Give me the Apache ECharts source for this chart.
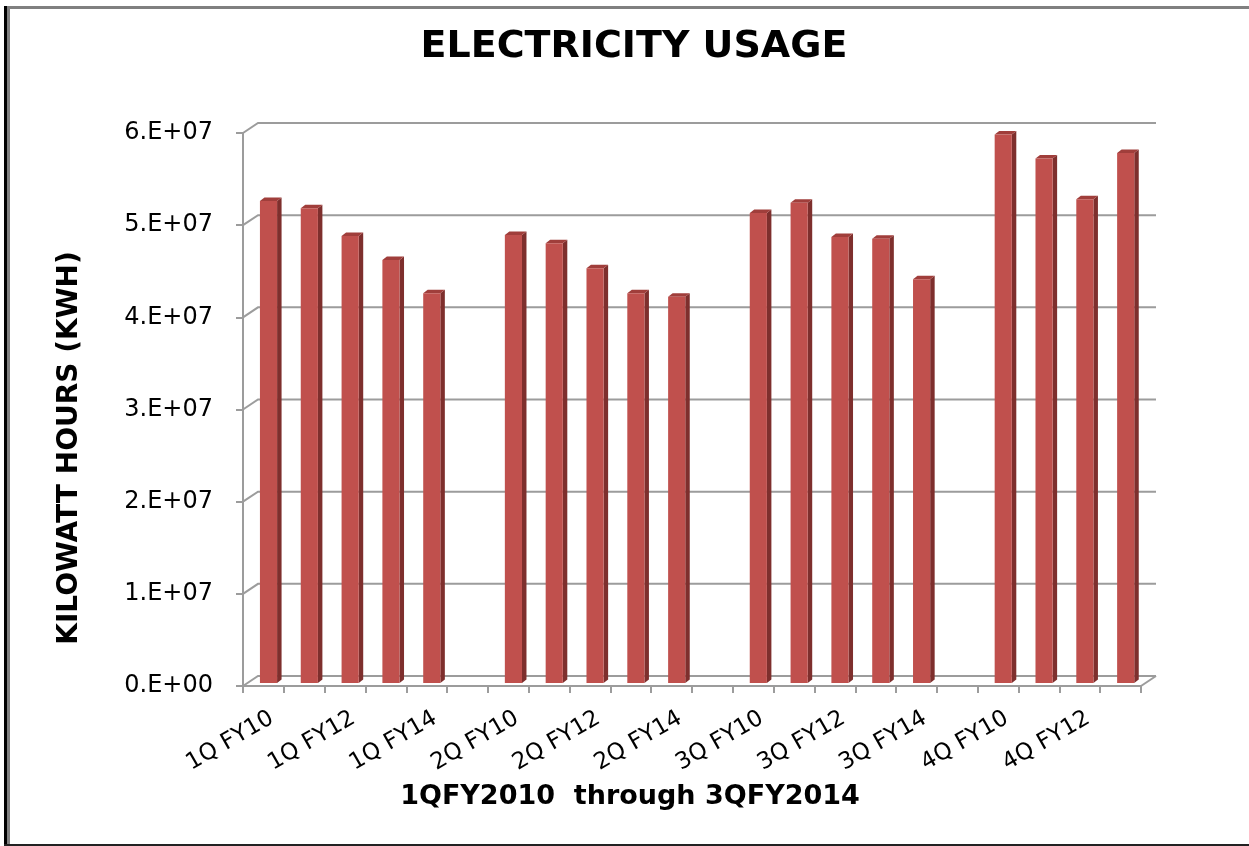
<!DOCTYPE html>
<html>
<head>
<meta charset="utf-8">
<script src="https://cdn.jsdelivr.net/npm/echarts@6/dist/echarts.min.js"></script>
<style>
html,body{margin:0;padding:0;background:#fff;}
#chart{width:1249px;height:846px;}
</style>
</head>
<body>
<div id="chart"></div>
<script>
// ---- data ----
const categories = ['1Q FY10','1Q FY11','1Q FY12','1Q FY13','1Q FY14',' ',
  '2Q FY10','2Q FY11','2Q FY12','2Q FY13','2Q FY14','  ',
  '3Q FY10','3Q FY11','3Q FY12','3Q FY13','3Q FY14','   ',
  '4Q FY10','4Q FY11','4Q FY12','4Q FY13'];
const kwh = [52300000, 51500000, 48500000, 45900000, 42300000, null,
  48600000, 47700000, 45000000, 42300000, 41900000, null,
  51000000, 52100000, 48400000, 48200000, 43800000, null,
  59500000, 56900000, 52500000, 57500000];
const yTickValues = [0, 10000000, 20000000, 30000000, 40000000, 50000000, 60000000];
const yTickLabels = ['0.E+00','1.E+07','2.E+07','3.E+07','4.E+07','5.E+07','6.E+07'];
const titleText = 'ELECTRICITY USAGE';
const yTitle = 'KILOWATT HOURS (KWH)';
const xTitle = '1QFY2010  through 3QFY2014';

// ---- styling ----
const FONT = '"DejaVu Sans", sans-serif';
const GRID_COLOR = '#9c9c9c';
const DEPTH_DX = 15, DEPTH_DY = -10;

const chart = echarts.init(document.getElementById('chart'), null, {renderer: 'canvas'});

const barData = [];
kwh.forEach((v, i) => { if (v !== null) barData.push([i, v]); });
const wallData = yTickValues.map(v => [0, v]);

const option = {
  backgroundColor: '#ffffff',
  animation: false,
  grid: {left: 243, right: 108, top: 133, bottom: 160, containLabel: false},
  xAxis: {
    type: 'category',
    data: categories,
    boundaryGap: true,
    axisLine: {show: true, lineStyle: {color: GRID_COLOR, width: 2}},
    axisTick: {show: true, interval: 0, length: 7, lineStyle: {color: GRID_COLOR, width: 2}},
    axisLabel: {
      interval: 1, rotate: 30, color: '#000', fontFamily: FONT, fontSize: 23,
      margin: 16, verticalAlign: 'top', lineHeight: 34
    },
    splitLine: {show: false}
  },
  yAxis: {
    type: 'value', min: 0, max: 60000000, interval: 10000000,
    axisLine: {show: true, lineStyle: {color: GRID_COLOR, width: 2}},
    axisTick: {show: true, length: 7, lineStyle: {color: GRID_COLOR, width: 2}},
    axisLabel: {
      color: '#000', fontFamily: FONT, fontSize: 24, margin: 30,
      formatter: v => yTickLabels[yTickValues.indexOf(v)]
    },
    splitLine: {show: false}
  },
  graphic: [
    {type: 'rect', shape: {x: 4, y: 6, width: 1245, height: 3}, style: {fill: '#808080'}, silent: true},
    {type: 'rect', shape: {x: 4, y: 6, width: 3, height: 840}, style: {fill: '#000'}, silent: true},
    {type: 'rect', shape: {x: 7, y: 6, width: 3, height: 840}, style: {fill: '#808080'}, silent: true},
    {type: 'rect', shape: {x: 4, y: 844, width: 1245, height: 2}, style: {fill: '#222'}, silent: true},
    {type: 'text', x: 634, y: 47, style: {text: titleText, fill: '#000', font: 'bold 38px ' + FONT, textAlign: 'center', textVerticalAlign: 'middle'}},
    {type: 'text', x: 630, y: 797, style: {text: xTitle, fill: '#000', font: 'bold 27px ' + FONT, textAlign: 'center', textVerticalAlign: 'middle'}},
    {type: 'text', x: 70, y: 448, rotation: Math.PI / 2, style: {text: yTitle, fill: '#000', font: 'bold 28px ' + FONT, textAlign: 'center', textVerticalAlign: 'middle'}}
  ],
  series: [
    {
      type: 'custom',
      name: 'walls',
      z: 1,
      silent: true,
      encode: {x: 0, y: 1},
      data: wallData,
      renderItem: function (params, api) {
        const cs = params.coordSys;
        const x0 = cs.x, x1 = cs.x + cs.width;
        const y = api.coord([0, api.value(1)])[1];
        const children = [{
          type: 'polyline',
          shape: {points: [[x0, y], [x0 + DEPTH_DX, y + DEPTH_DY], [x1 + DEPTH_DX, y + DEPTH_DY]]},
          style: {stroke: GRID_COLOR, lineWidth: 2, fill: null}
        }];
        if (api.value(1) === 0) {
          children.push({
            type: 'line',
            shape: {x1: x1, y1: y, x2: x1 + DEPTH_DX, y2: y + DEPTH_DY},
            style: {stroke: GRID_COLOR, lineWidth: 2}
          });
        }
        return {type: 'group', children: children};
      }
    },
    {
      type: 'custom',
      name: 'kWh',
      z: 5,
      encode: {x: 0, y: 1},
      data: barData,
      renderItem: function (params, api) {
        const idx = api.value(0), val = api.value(1);
        const base = api.coord([idx, 0]);
        const top = api.coord([idx, val]);
        const band = api.size([1, 0])[0];
        const c = base[0];
        const left = c - 0.085 * band;
        const w = 0.42 * band;
        const dx = 0.11 * band, dy = -3.5;
        const yb = base[1] - 3, yt = top[1] - 3;
        return {
          type: 'group',
          children: [
            {type: 'polygon', shape: {points: [[left + w, yt], [left + w + dx, yt + dy], [left + w + dx, yb + dy], [left + w, yb]]}, style: {fill: '#7e2f2d'}},
            {type: 'polygon', shape: {points: [[left, yt], [left + dx, yt + dy], [left + w + dx, yt + dy], [left + w, yt]]}, style: {fill: '#a03e3b'}},
            {type: 'rect', shape: {x: left, y: yt, width: w, height: yb - yt}, style: {fill: '#c0504d'}}
          ]
        };
      }
    }
  ]
};
chart.setOption(option);
</script>
</body>
</html>
